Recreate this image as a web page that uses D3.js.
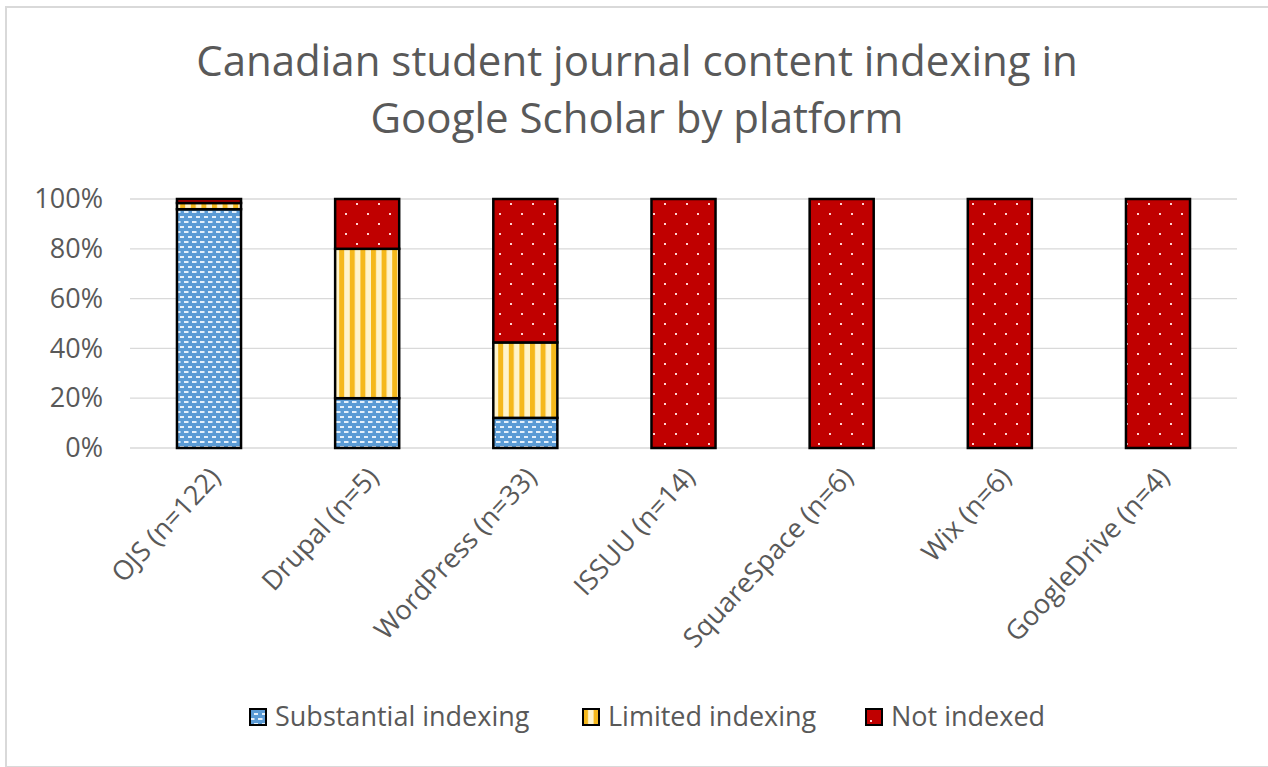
<!DOCTYPE html>
<html><head><meta charset="utf-8">
<script src="https://cdn.jsdelivr.net/npm/d3@7"></script>
<style>body{margin:0;background:#fff;}svg{display:block;font-family:"Open Sans","Liberation Sans",sans-serif;}</style>
</head><body><svg id="c" width="1268" height="767"></svg>
<script>
const categories = ["OJS (n=122)","Drupal (n=5)","WordPress (n=33)","ISSUU (n=14)","SquareSpace (n=6)","Wix (n=6)","GoogleDrive (n=4)"];
const seriesNames = ["Substantial indexing","Limited indexing","Not indexed"];
const substantial = [0.959, 0.20, 0.121, 0, 0, 0, 0];
const limited     = [0.025, 0.60, 0.303, 0, 0, 0, 0];
const notIndexed  = [0.016, 0.20, 0.576, 1, 1, 1, 1];
const yTicks = [0, 0.2, 0.4, 0.6, 0.8, 1.0];
const titleLines = ["Canadian student journal content indexing in","Google Scholar by platform"];

const svg = d3.select("#c");
svg.append("rect").attr("x",6).attr("y",7).attr("width",1270).attr("height",760).attr("fill","#fff").attr("stroke","#d9d9d9").attr("stroke-width",2);

const defs = svg.append("defs");
const p1 = defs.append("pattern").attr("id","pSub").attr("patternUnits","userSpaceOnUse").attr("width",8).attr("height",10);
p1.append("rect").attr("width",8).attr("height",10).attr("fill","#5b9bd5");
p1.append("rect").attr("x",0).attr("y",1).attr("width",4.5).attr("height",2).attr("fill","#e4f0fb");
p1.append("rect").attr("x",4).attr("y",6).attr("width",4.5).attr("height",2).attr("fill","#e4f0fb");
const p2 = defs.append("pattern").attr("id","pLim").attr("patternUnits","userSpaceOnUse").attr("width",10.6).attr("height",10);
p2.append("rect").attr("width",10.6).attr("height",10).attr("fill","#fff4cc");
p2.append("rect").attr("x",0).attr("width",5).attr("height",10).attr("fill","#f5b81c");
const p3 = defs.append("pattern").attr("id","pNot").attr("patternUnits","userSpaceOnUse").attr("width",22).attr("height",20);
p3.append("rect").attr("width",22).attr("height",20).attr("fill","#c00000");
p3.append("rect").attr("x",4).attr("y",3).attr("width",2).attr("height",2).attr("fill","#ffd0d0");
p3.append("rect").attr("x",15).attr("y",13).attr("width",2).attr("height",2).attr("fill","#ffd0d0");
const fills = ["url(#pSub)","url(#pLim)","url(#pNot)"];

svg.append("g").selectAll("text").data(titleLines).join("text")
  .attr("x",637).attr("y",(d,i)=>76+i*57).attr("text-anchor","middle")
  .attr("font-size",42).attr("fill","#595959").text(d=>d);

const x = d3.scaleBand().domain(categories).range([130,1237]).paddingInner(0.595).paddingOuter(0.297);
const y = d3.scaleLinear().domain([0,1]).range([448,199]);

svg.append("g").selectAll("line").data(yTicks).join("line")
  .attr("x1",130).attr("x2",1237).attr("y1",d=>y(d)).attr("y2",d=>y(d))
  .attr("stroke","#d9d9d9").attr("stroke-width",1.3);

const yAxis = svg.append("g").attr("transform","translate(130,0)")
  .call(d3.axisLeft(y).tickValues(yTicks).tickFormat(d3.format(".0%")).tickSize(0).tickPadding(27));
yAxis.select(".domain").remove();
yAxis.selectAll("text").attr("font-size",27).attr("fill","#595959").attr("font-family","Open Sans, sans-serif");

const table = categories.map((c,i)=>({cat:c, s0:substantial[i], s1:limited[i], s2:notIndexed[i]}));
const stack = d3.stack().keys(["s0","s1","s2"])(table);
const g = svg.append("g");
stack.forEach((layer,k)=>{
  g.append("g").selectAll("rect").data(layer.filter(d=>d[1]-d[0]>0)).join("rect")
    .attr("x",d=>x(d.data.cat)).attr("width",x.bandwidth())
    .attr("y",d=>y(d[1])).attr("height",d=>y(d[0])-y(d[1]))
    .attr("fill",fills[k]).attr("stroke","#000").attr("stroke-width",2.5);
});

const xAxis = svg.append("g").attr("transform","translate(0,448)")
  .call(d3.axisBottom(x).tickSize(0).tickPadding(0));
xAxis.select(".domain").remove();
xAxis.selectAll("text")
  .attr("font-size",27).attr("fill","#595959").attr("font-family","Open Sans, sans-serif")
  .attr("text-anchor","end").attr("dy","0.35em")
  .attr("transform","translate(6,24) rotate(-47)");

const legX = [250, 583, 866];
const leg = svg.append("g").selectAll("g").data(seriesNames).join("g")
  .attr("transform",(d,i)=>`translate(${legX[i]},717)`);
leg.append("rect").attr("x",0).attr("y",-8).attr("width",16).attr("height",16)
  .attr("fill",(d,i)=>fills[i]).attr("stroke","#000").attr("stroke-width",2);
leg.append("text").attr("x",25).attr("y",0).attr("dy","0.35em")
  .attr("font-size",27).attr("fill","#595959").text(d=>d);
</script></body></html>
